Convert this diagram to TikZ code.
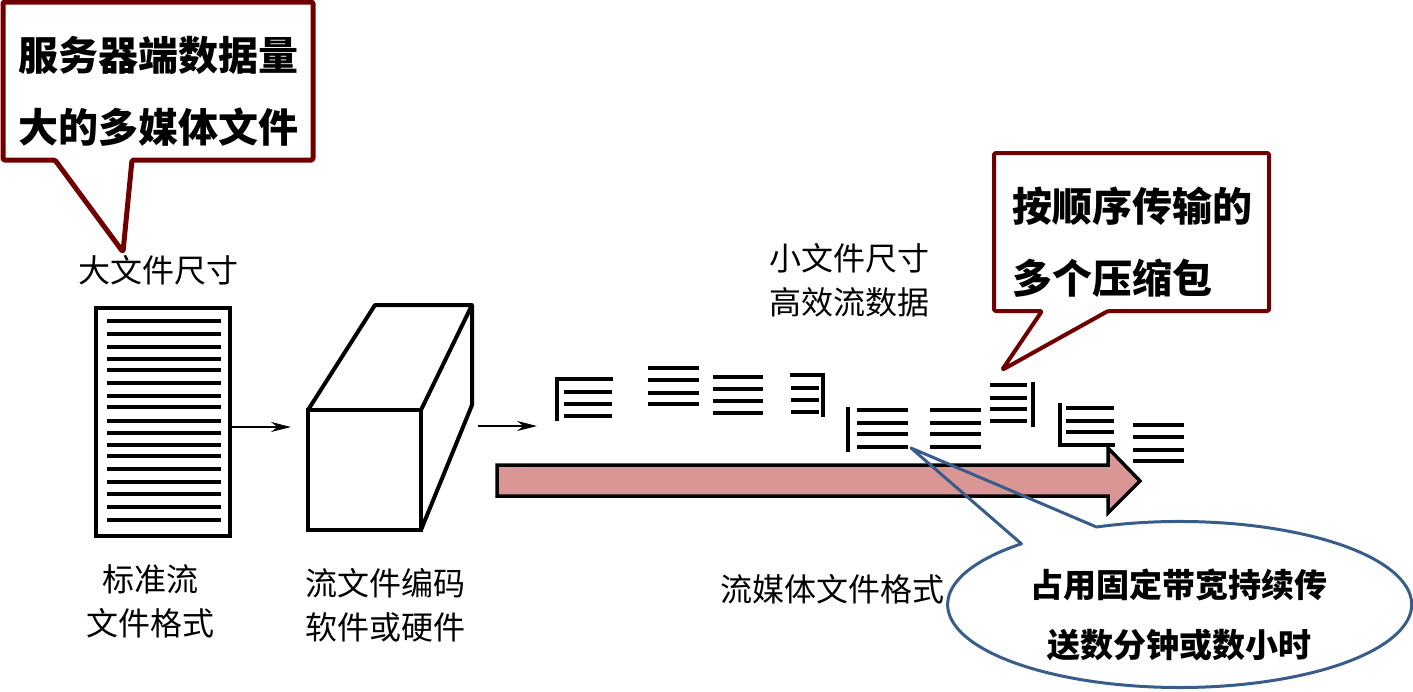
\documentclass[tikz,border=0pt]{standalone}
\usepackage{fontspec}
\setmainfont{Noto Sans CJK SC}
\definecolor{cdark}{HTML}{700000}
\definecolor{cblue}{HTML}{385D8A}
\definecolor{cpink}{HTML}{D99694}
\usetikzlibrary{arrows.meta,positioning}

\begin{document}
\begin{tikzpicture}[
  x=1pt,y=-1pt,
  label/.style={align=center,inner sep=0pt,font=\fontsize{32}{44}\selectfont},
  tip/.style={align=center,inner sep=0pt,font=\fontsize{40}{72}\selectfont\bfseries},
  tipsmall/.style={align=center,inner sep=0pt,font=\fontsize{33}{60}\selectfont\bfseries},
  callout/.style={draw=cdark,line width=5pt,rounded corners=1.5pt,line join=round},
  bubble/.style={draw=cblue,line width=3pt,line join=round},
  solid box/.style={draw,line width=4pt,fill=white,outer sep=0pt,inner sep=0pt},
  arr/.style={-{Stealth[length=20pt,width=10pt]},line width=1.2pt},
  rule/.style={line width=3.5pt}]
  \useasboundingbox (0,0) rectangle (1413,691);
  \node[solid box,minimum width=134pt,minimum height=228pt] (doc) at (162.5,422) {};
  \foreach \yy in {321,334,347,359,370,383,396,407,421,433,445,456,469,482,494,507,520}
    \draw[rule] (107,\yy) -- (221,\yy);
  \node[solid box,minimum width=113pt,minimum height=120pt] (front) at (364.5,470) {};
  \draw[line width=4pt,line join=round] (front.north west) -- (375,305) -- (472,305) -- (front.north east);
  \draw[line width=4pt,line join=round] (472,305) -- (472,405) -- (front.south east);
  \coordinate (docend) at (291,427);
  \coordinate (boxstart) at (478,426);
  \coordinate (boxend) at (537,426);
  \draw[arr] (doc.east |- docend) -- (docend);
  \draw[arr] (boxstart) -- (boxend);
  \draw[line width=3.5pt,fill=cpink,line join=miter] (497,465) -- (1108,465) -- (1108,448) -- (1140,481) -- (1108,513) -- (1108,496) -- (497,496) -- cycle;
  \foreach \xa/\xb/\ys in {
    564/612/{392,404,416},
    648/699/{368,380,393,404},
    713/763/{377,389,401,413},
    791/819/{388,400,412},
    857/908/{410,423,434,447},
    930/981/{410,423,434,447},
    990/1027/{385,398,409,421},
    1066/1114/{408,421,432},
    1133/1184/{425,437,450,461}}
    \foreach \yy in \ys
      \draw[rule] (\xa,\yy) -- (\xb,\yy);
  \draw[rule] (557,421) -- (557,379) -- (613,379);
  \draw[rule] (790,375) -- (823,375) -- (823,417);
  \draw[rule] (848,407) -- (848,452);
  \draw[rule] (1033,382) -- (1033,427);
  \draw[rule] (1060,403) -- (1060,445) -- (1115,445);
  \coordinate (bigtip) at (123,252);
  \coordinate (packtip) at (1002,370);
  \coordinate (streamtip) at (911,448);
  \draw[callout] (3,2) -- (313,2) -- (313,160) -- (132,160) -- (bigtip) -- (55,160) -- (3,160) -- cycle;
  \draw[callout,line width=4pt] (994,153) -- (1269,153) -- (1269,311) -- (1108,311) -- (packtip) -- (1042,311) -- (994,311) -- cycle;
  \draw[bubble] (streamtip) -- (1096.5,527) arc[start angle=111,end angle=-227,x radius=232pt,y radius=83pt] -- cycle;
  \node[tip] (bigtext) at (158.5,91) {服务器端数据量\\大的多媒体文件};
  \node[tip,align=left] (packtext) at (1132,242) {按顺序传输的\\多个压缩包};
  \node[tipsmall] (streamtext) at (1179,615) {占用固定带宽持续传\\送数分钟或数小时};
  \node[label,above=23pt of doc,xshift=-4pt] (biglabel) {大文件尺寸};
  \node[label] (smalllabel) at (849,280) {小文件尺寸\\高效流数据};
  \node[label,below=28pt of doc,xshift=-12.5pt] (stdlabel) {标准流\\文件格式};
  \node[label,below=38pt of front,xshift=21pt] (codeclabel) {流文件编码\\软件或硬件};
  \node[label] (formatlabel) at (832.5,589) {流媒体文件格式};
\end{tikzpicture}
\end{document}
